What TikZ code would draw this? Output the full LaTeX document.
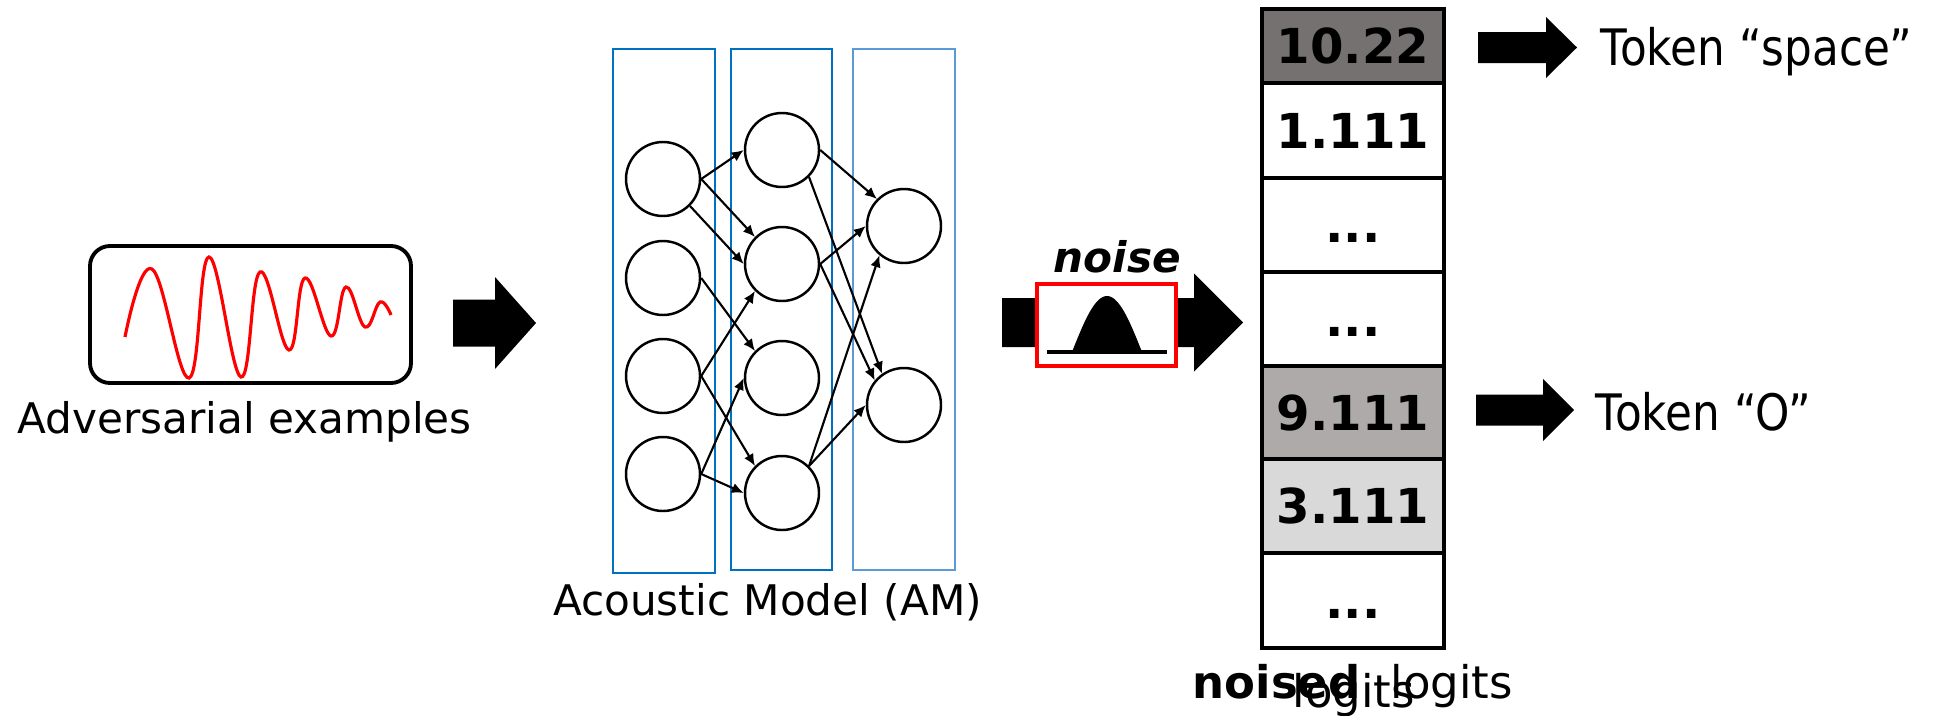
\documentclass[tikz,border=0pt]{standalone}
\usepackage{fontspec}
\setmainfont{DejaVu Sans}
\newfontfamily\narrowfont[FakeStretch=0.87]{DejaVu Sans}
\usepackage{tikz}
\usetikzlibrary{arrows.meta,positioning}
\definecolor{NetBlue}{RGB}{0,112,192}
\definecolor{NetLight}{RGB}{91,155,213}
\definecolor{LogitDark}{RGB}{118,113,113}
\definecolor{LogitMid}{RGB}{174,170,170}
\definecolor{LogitLight}{RGB}{217,217,217}
\tikzset{
  neuron/.style={circle,draw,fill=white,line width=.7pt,minimum size=.74cm,inner sep=0pt},
  layerbox/.style={line width=.8pt},
  link/.style={line width=.6pt,-{Latex[length=3.4pt,width=3pt]}},
  logit/.style={draw,line width=1pt,minimum width=1.82cm,inner sep=0pt,
    text height=.35cm,text depth=0pt,font=\fontsize{13.7}{16}\selectfont\bfseries},
  lbl/.style={font=\fontsize{12}{14}\selectfont,inner sep=0pt},
  tokenlbl/.style={font=\narrowfont\fontsize{14.3}{17}\selectfont,inner sep=0pt,anchor=base west}
}
\newcommand{\fatarrow}[6]{%
  \fill (#1,#2-#5) -- (#3,#2-#5) -- (#3,#2-#6) -- (#4,#2) -- (#3,#2+#6) -- (#3,#2+#5) -- (#1,#2+#5) -- cycle;}
\newcommand{\logitdots}{...}

\begin{document}
\begin{tikzpicture}
  \useasboundingbox (0,0) rectangle (19.40,7.15);

  % input signal
  \node[draw,line width=1.1pt,rounded corners=.2cm,minimum width=3.21cm,minimum height=1.37cm] (wavebox) at (2.505,4.005) {};
  \draw[red,line width=.9pt] plot[smooth,tension=.7] coordinates {(1.25,3.78) (1.52,4.46) (1.89,3.37) (2.09,4.58) (2.41,3.38) (2.60,4.43) (2.89,3.65) (3.05,4.37) (3.31,3.79) (3.46,4.28) (3.65,3.88) (3.80,4.13) (3.91,4.00)};
  \node[lbl,anchor=base] (advtxt) at (2.445,2.82) {Adversarial examples};
  \fatarrow{4.53}{3.92}{4.95}{5.36}{.235}{.46}

  % acoustic model
  \draw[layerbox,NetBlue] (6.13,6.66) rectangle (7.15,1.42);
  \draw[layerbox,NetBlue] (7.31,6.66) rectangle (8.32,1.45);
  \draw[layerbox,NetLight] (8.53,6.66) rectangle (9.55,1.45);
  \foreach \y [count=\i] in {5.36,4.37,3.39,2.41}
    \node[neuron] (a\i) at (6.63,\y) {};
  \foreach \y [count=\i] in {5.65,4.51,3.37,2.22}
    \node[neuron] (b\i) at (7.82,\y) {};
  \foreach \y [count=\i] in {4.89,3.10}
    \node[neuron] (c\i) at (9.04,\y) {};
  \foreach \s/\t in {a1.east/b1.west,a1.east/b2.135,a1.-45/b2.west,a2.east/b3.135,
      a3.east/b2.225,a3.east/b4.135,a4.east/b3.west,a4.east/b4.west,
      b1.east/c1.135,b1.-45/c2.125,b2.east/c1.west,b2.east/c2.140,
      b4.45/c1.230,b4.45/c2.west}
    \draw[link] (\s) -- (\t);
  \node[lbl,anchor=base] (amtxt) at (7.675,1.00) {Acoustic Model (AM)};

  % noise
  \fatarrow{10.02}{3.925}{11.94}{12.43}{.245}{.49}
  \node[draw=red,fill=white,line width=.9pt,minimum width=1.39cm,minimum height=.82cm] (noisebox) at (11.065,3.90) {};
  \fill plot[domain=-.35:.35,samples=40] ({11.07+\x},{3.63+.56*cos(257*\x)}) -- cycle;
  \draw[line width=1.2pt] (10.47,3.63) -- (11.67,3.63);
  \node[lbl,font=\fontsize{12}{14}\selectfont\bfseries\itshape,anchor=base] (noisetxt) at (11.175,4.43) {noise};

  % logits
  \foreach \y/\h/\c/\v [count=\i] in {6.69/.74/LogitDark/10.22,5.845/.95/white/1.111,
      4.90/.94/white/\logitdots,3.96/.94/white/\logitdots,3.025/.93/LogitMid/9.111,
      2.09/.94/LogitLight/3.111,1.145/.95/white/\logitdots}
    \node[logit,fill=\c,minimum height=\h cm] (row\i) at (13.53,\y) {\v};
  \node[font=\fontsize{12.8}{15}\selectfont\bfseries,inner sep=0pt,anchor=base west] (noisedtxt) at (11.92,.17) {noised};
  \node[font=\fontsize{12.8}{15}\selectfont,inner sep=0pt,anchor=base west] (logtxta) at (12.92,.08) {logits};
  \node[font=\fontsize{12.8}{15}\selectfont,inner sep=0pt,anchor=base west] (logtxtb) at (13.90,.17) {logits};

  % tokens
  \fatarrow{14.78}{6.675}{15.46}{15.77}{.155}{.305}
  \node[tokenlbl] (tokspace) at (16.00,6.50) {Token “space”};
  \fatarrow{14.76}{3.05}{15.43}{15.74}{.155}{.31}
  \node[tokenlbl] (tokO) at (15.95,2.85) {Token “O”};
\end{tikzpicture}
\end{document}
